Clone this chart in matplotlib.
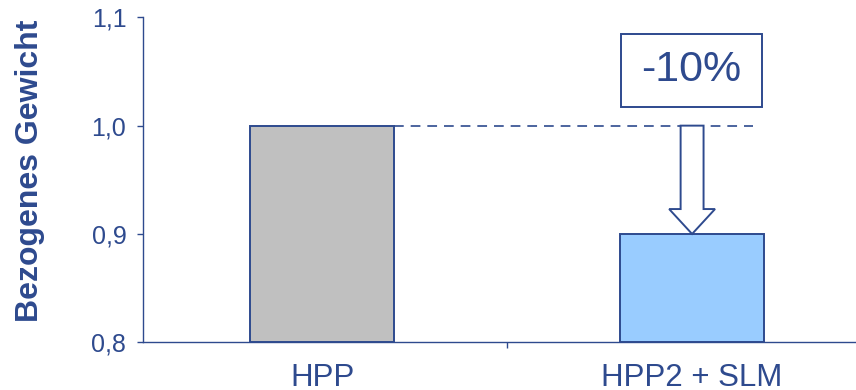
import matplotlib
matplotlib.use("Agg")
import matplotlib.pyplot as plt
from matplotlib.patches import FancyArrow, Rectangle

plt.rcParams['font.family'] = ['Liberation Sans', 'DejaVu Sans']
plt.rcParams['lines.scale_dashes'] = False

categories = ['HPP', 'HPP2 + SLM']
values = [1.0, 0.9]
bar_colors = ['#C0C0C0', '#99CCFF']
y_ticks = [0.8, 0.9, 1.0, 1.1]
y_tick_labels = ['0,8', '0,9', '1,0', '1,1']

navy = '#2E4A8E'

fig = plt.figure(figsize=(8.56, 3.9), dpi=100)
ax = fig.add_axes([143 / 856, 47.7 / 390, 1 - 143 / 856, (342.3 - 17.3) / 390])

x = list(range(len(categories)))
ax.bar(x, [v - 0.8 for v in values], bottom=0.8, width=0.39,
       color=bar_colors, edgecolor=navy, linewidth=1.4, zorder=3)

ax.set_ylim(0.8, 1.1)
ax.set_xlim(-0.484, 1.443)
ax.set_yticks(y_ticks)
ax.set_yticklabels(y_tick_labels)
ax.set_xticks(x)
ax.set_xticklabels(categories)
ax.set_xticks([0.5], minor=True)

ax.tick_params(axis='y', colors=navy, labelcolor=navy, labelsize=18,
               direction='out', length=4, width=1, pad=8)
ax.tick_params(axis='x', which='major', length=0, labelsize=22.5,
               labelcolor=navy, pad=15)
ax.tick_params(axis='x', which='minor', length=4, width=1, colors=navy,
               direction='out')

for side in ('top', 'right'):
    ax.spines[side].set_visible(False)
for side in ('left', 'bottom'):
    ax.spines[side].set_color(navy)
    ax.spines[side].set_linewidth(1.0)

ax.set_ylabel('Bezogenes Gewicht', fontsize=23, fontweight='bold',
              color=navy)
ax.yaxis.set_label_coords(-0.1375, 0.527)

# reference level and change indicator
ref, new = values[0], values[1]
ax.plot([0.195, 1.165], [ref, ref], color=navy, lw=1.2,
        linestyle=(0, (7, 5)), zorder=2)

arrow = FancyArrow(1.0, ref, 0, new - ref, width=0.062, head_width=0.124,
                   head_length=0.023, length_includes_head=True,
                   facecolor='white', edgecolor=navy, linewidth=1.4, zorder=4)
ax.add_patch(arrow)

box = Rectangle((0.808, 1.0172), 1.189 - 0.808, 1.0846 - 1.0172,
                facecolor='white', edgecolor=navy, linewidth=1.4, zorder=4)
ax.add_patch(box)
pct = round((new - ref) / ref * 100)
ax.text(0.9985, 1.051, f'{pct}%', ha='center', va='center', fontsize=31,
        color=navy, zorder=5)

fig.savefig('out.png', dpi=100)
